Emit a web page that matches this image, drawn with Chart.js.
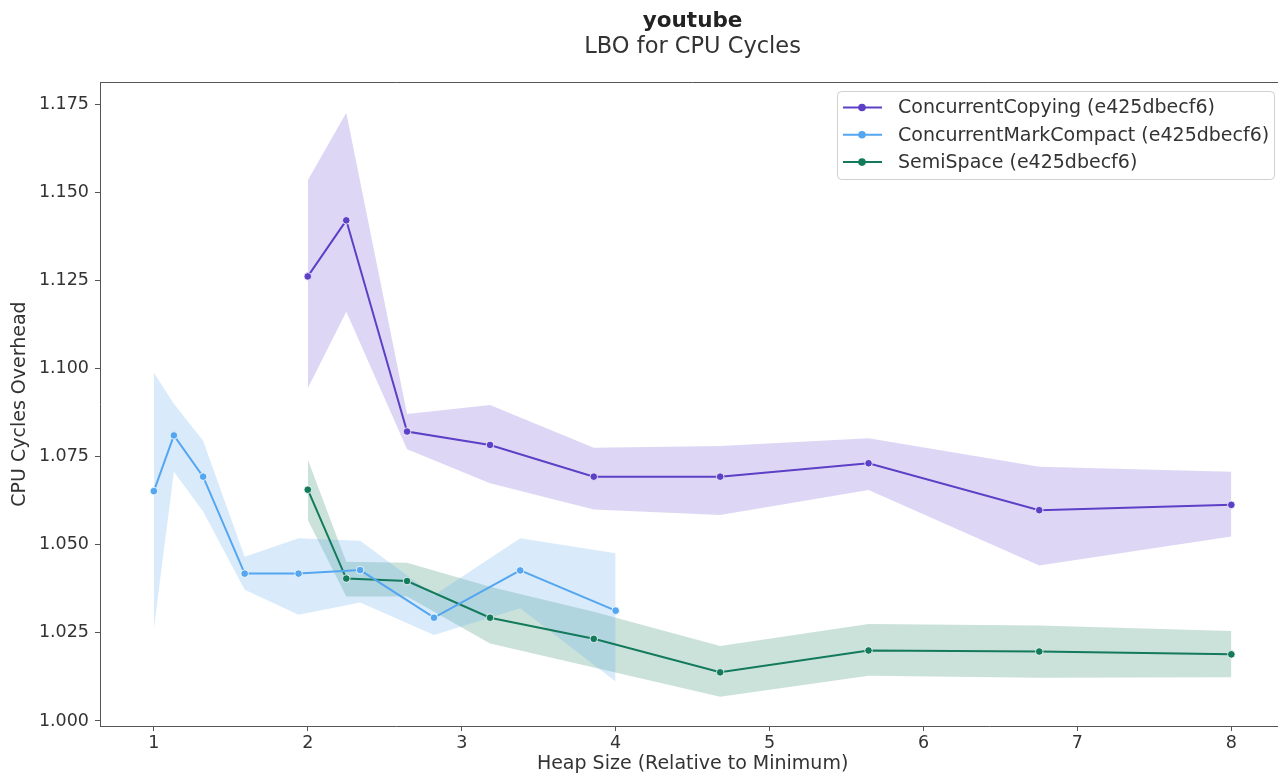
<!DOCTYPE html>
<html>
<head>
<meta charset="utf-8">
<title>youtube - LBO for CPU Cycles</title>
<script src="https://cdn.jsdelivr.net/npm/chart.js@4.4.0/dist/chart.umd.min.js"></script>
<style>
  html, body { margin: 0; padding: 0; background: #fff; overflow: hidden; }
  #wrap { width: 1278px; height: 775px; overflow: hidden; }
</style>
</head>
<body>
<!-- canvas is a little wider than the window: the plot frame runs off the right edge -->
<div id="wrap"><canvas id="myChart" width="1290" height="775"></canvas></div>
<script>
'use strict';

// Titles and series names
const chartTitle = 'youtube';
const chartSubtitle = 'LBO for CPU Cycles';
const seriesNames = [
  'ConcurrentCopying (e425dbecf6)',
  'ConcurrentMarkCompact (e425dbecf6)',
  'SemiSpace (e425dbecf6)',
];

// Heap sizes (relative to minimum)
const heapSizes = [2.0, 2.25, 2.645, 3.184, 3.858, 4.679, 5.643, 6.752, 8.0];
const cmcHeapSizes = [1.0, 1.13, 1.32, 1.59, 1.94, 2.34, 2.82, 3.38, 4.0];

// ConcurrentCopying: mean and band
const ccMean = [1.1261, 1.1420, 1.0821, 1.0783, 1.0693, 1.0693, 1.0731, 1.0598, 1.0613];
const ccHigh = [1.1534, 1.1725, 1.0871, 1.0896, 1.0775, 1.0780, 1.0802, 1.0721, 1.0707];
const ccLow = [1.0944, 1.1161, 1.0771, 1.0674, 1.0600, 1.0584, 1.0655, 1.0441, 1.0523];

// ConcurrentMarkCompact: mean and band
const cmcMean = [1.0652, 1.0810, 1.0693, 1.0418, 1.0418, 1.0428, 1.0293, 1.0427, 1.0313];
const cmcHigh = [1.0988, 1.0900, 1.0795, 1.0466, 1.0518, 1.0511, 1.0357, 1.0518, 1.0476];
const cmcLow = [1.0261, 1.0707, 1.0594, 1.0372, 1.0301, 1.0336, 1.0244, 1.0320, 1.0112];

// SemiSpace: mean and band
const ssMean = [1.0656, 1.0404, 1.0397, 1.0293, 1.0233, 1.0138, 1.0200, 1.0197, 1.0189];
const ssHigh = [1.0742, 1.0452, 1.0449, 1.0381, 1.0310, 1.0213, 1.0275, 1.0271, 1.0255];
const ssLow = [1.0570, 1.0353, 1.0353, 1.0220, 1.0152, 1.0069, 1.0128, 1.0123, 1.0124];

// Axis ticks
const xTicks = [1, 2, 3, 4, 5, 6, 7, 8];
const yTicks = [1.000, 1.025, 1.050, 1.075, 1.100, 1.125, 1.150, 1.175];

const lineColors = ['#5c40c6', '#53a6ef', '#137a5b'];
const bandColors = ['rgba(110, 80, 210, 0.23)', 'rgba(83, 166, 239, 0.22)', 'rgba(19, 122, 91, 0.22)'];

const fontFamily = '"DejaVu Sans", sans-serif';
const textColor = '#333333';
const axisColor = '#555555';

function pts(xs, ys){
  return xs.map((x, i) => ({x: x, y: ys[i]}));
}

// builds 3 datasets for one series: upper edge, lower edge filled to upper, mean line
function seriesSets(i, xs, mean, high, low){
  return [
    {
      label: 'hi' + i,
      data: pts(xs, high),
      borderWidth: 0,
      borderColor: 'rgba(0,0,0,0)',
      pointRadius: 0,
      fill: false,
    },
    {
      label: 'lo' + i,
      data: pts(xs, low),
      borderWidth: 0,
      borderColor: 'rgba(0,0,0,0)',
      backgroundColor: bandColors[i],
      pointRadius: 0,
      fill: '-1',
    },
    {
      label: seriesNames[i],
      data: pts(xs, mean),
      borderColor: lineColors[i],
      backgroundColor: lineColors[i],
      borderWidth: 2,
      pointRadius: 3.8,
      pointBorderColor: '#ffffff',
      pointBorderWidth: 0.8,
      fill: false,
    },
  ];
}

const datasets = [].concat(
  seriesSets(0, heapSizes, ccMean, ccHigh, ccLow),
  seriesSets(1, cmcHeapSizes, cmcMean, cmcHigh, cmcLow),
  seriesSets(2, heapSizes, ssMean, ssHigh, ssLow)
);

// Titles centred over the plot area
const titlePlugin = {
  id: 'titlePlugin',
  afterDraw(chart){
    const ctx = chart.ctx;
    const area = chart.chartArea;
    const cx = (area.left + area.right) / 2;
    ctx.save();
    ctx.textAlign = 'center';
    ctx.textBaseline = 'alphabetic';
    ctx.fillStyle = '#222222';
    ctx.font = 'bold 21.5px ' + fontFamily;
    ctx.fillText(chartTitle, cx, 26.5);
    ctx.fillStyle = textColor;
    ctx.font = '22.5px ' + fontFamily;
    ctx.fillText(chartSubtitle, cx, 53);
    ctx.restore();
  }
};

// Top frame line and legend box inside the plot
const framePlugin = {
  id: 'framePlugin',
  afterDraw(chart){
    const ctx = chart.ctx;
    const area = chart.chartArea;
    ctx.save();
    ctx.strokeStyle = axisColor;
    ctx.lineWidth = 1;
    ctx.beginPath();
    ctx.moveTo(area.left, area.top + 0.5);
    ctx.lineTo(area.right, area.top + 0.5);
    ctx.stroke();

    // legend
    ctx.font = '19px ' + fontFamily;
    const boxLeft = 837;
    const boxRight = 1274;
    const boxTop = 91;
    const boxH = 88;
    ctx.fillStyle = 'rgba(255,255,255,0.85)';
    ctx.strokeStyle = '#d0d0d0';
    ctx.beginPath();
    ctx.roundRect(boxLeft + 0.5, boxTop + 0.5, boxRight - boxLeft, boxH, 4);
    ctx.fill();
    ctx.stroke();
    for (let i = 0; i < seriesNames.length; i++){
      const y = 107.5 + i * 27.3;
      ctx.strokeStyle = lineColors[i];
      ctx.lineWidth = 2;
      ctx.beginPath();
      ctx.moveTo(boxLeft + 6, y);
      ctx.lineTo(boxLeft + 45, y);
      ctx.stroke();
      ctx.fillStyle = lineColors[i];
      ctx.beginPath();
      ctx.arc(boxLeft + 25, y, 3.8, 0, Math.PI * 2);
      ctx.fill();
      ctx.fillStyle = textColor;
      ctx.textAlign = 'left';
      ctx.textBaseline = 'middle';
      ctx.fillText(seriesNames[i], boxLeft + 61, y + 1);
    }
    ctx.restore();
  }
};

const ctx = document.getElementById('myChart').getContext('2d');
const chart = new Chart(ctx, {
  type: 'line',
  data: { datasets: datasets },
  options: {
    responsive: false,
    animation: false,
    devicePixelRatio: 1,
    layout: { padding: { top: 82, left: 0, right: 0, bottom: 0 } },
    plugins: {
      legend: { display: false },
      tooltip: { enabled: false },
      title: { display: false },
      filler: { drawTime: 'beforeDatasetsDraw' },
    },
    scales: {
      x: {
        type: 'linear',
        min: 0.65,
        max: 8.35,
        afterFit(scale){
          scale.height = 49;
          scale.paddingLeft = 0;
          scale.paddingRight = 0;
        },
        afterBuildTicks(scale){ scale.ticks = xTicks.map(v => ({value: v})); },
        border: { display: true, color: axisColor, width: 1 },
        grid: { drawOnChartArea: false, drawTicks: true, tickLength: 5, color: axisColor },
        ticks: {
          color: textColor,
          font: { family: fontFamily, size: 17.5 },
          padding: 2,
          maxRotation: 0,
          callback: v => String(v),
        },
        title: {
          display: true,
          text: 'Heap Size (Relative to Minimum)',
          color: textColor,
          font: { family: fontFamily, size: 19 },
          padding: { top: 0, bottom: 0 },
        },
      },
      y: {
        type: 'linear',
        min: 0.99858,
        max: 1.18124,
        afterFit(scale){ scale.width = 100; },
        afterBuildTicks(scale){ scale.ticks = yTicks.map(v => ({value: v})); },
        border: { display: true, color: axisColor, width: 1 },
        grid: { drawOnChartArea: false, drawTicks: true, tickLength: 5, color: axisColor },
        ticks: {
          color: textColor,
          font: { family: fontFamily, size: 17.5 },
          padding: 6,
          callback: v => Number(v).toFixed(3),
        },
        title: {
          display: true,
          text: 'CPU Cycles Overhead',
          color: textColor,
          font: { family: fontFamily, size: 19 },
          padding: { top: 9, bottom: 0 },
        },
      },
    },
  },
  plugins: [titlePlugin, framePlugin],
});
</script>
</body>
</html>
